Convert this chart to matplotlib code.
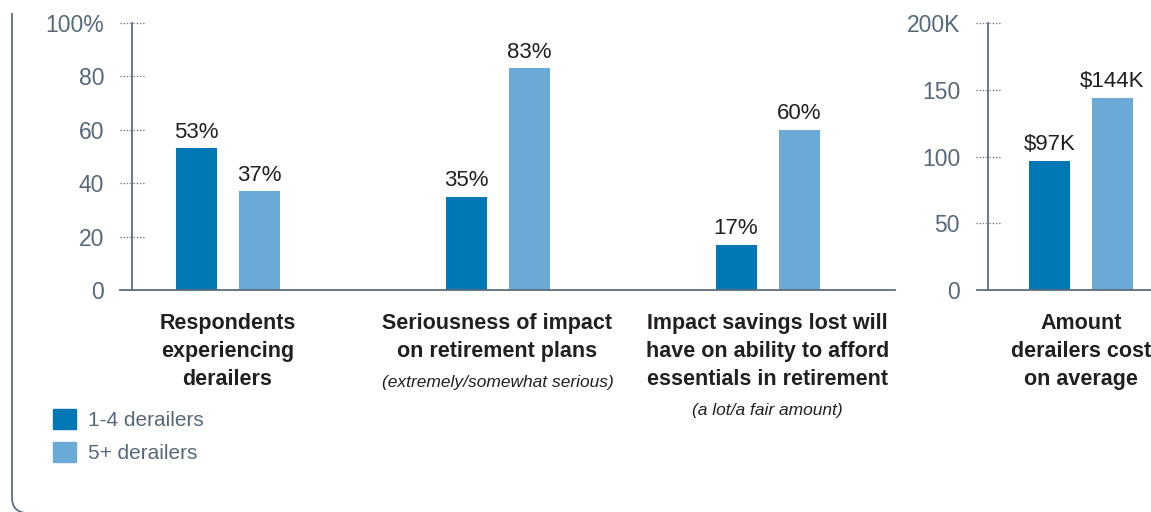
import matplotlib
matplotlib.use("Agg")
import matplotlib.pyplot as plt
import numpy as np
from matplotlib.patches import Patch, PathPatch
from matplotlib.path import Path

plt.rcParams["font.family"] = ["Liberation Sans", "DejaVu Sans"]

# ---- data -------------------------------------------------------------
categories = [
    "Respondents\nexperiencing\nderailers",
    "Seriousness of impact\non retirement plans",
    "Impact savings lost will\nhave on ability to afford\nessentials in retirement",
]
subtitles = ["", "(extremely/somewhat serious)", "(a lot/a fair amount)"]
few_pct = [53, 35, 17]
many_pct = [37, 83, 60]
pct_ticks = [0, 20, 40, 60, 80, 100]
pct_tick_labels = ["0", "20", "40", "60", "80", "100%"]

cost_category = "Amount\nderailers cost\non average"
few_cost = [97]
many_cost = [144]
cost_ticks = [0, 50, 100, 150, 200]
cost_tick_labels = ["0", "50", "100", "150", "200K"]

series_names = ["1-4 derailers", "5+ derailers"]

# ---- style ------------------------------------------------------------
DARK = "#0078B5"
LIGHT = "#6BAAD6"
AXIS = "#5E6C7B"
TICK_TXT = "#56687A"
VALUE_TXT = "#231F20"
CAT_TXT = "#231F20"

W, H = 1151, 512
fig = plt.figure(figsize=(W / 100, H / 100), dpi=100)


def box(x0, y0, x1, y1):
    return [x0 / W, 1 - y1 / H, (x1 - x0) / W, (y1 - y0) / H]


PX = 1 / 270.0          # one pixel in x data units
PT = 0.72               # one pixel in points
BAR_W = 41 * PX
OFFSET = 31.5 * PX


def style_axis(ax, spine_x, tick_x0, tick_x1, ticks, labels, top):
    ax.set_ylim(0, top)
    for s in ("top", "right"):
        ax.spines[s].set_visible(False)
    ax.spines["left"].set_position(("data", spine_x))
    for s in ("left", "bottom"):
        ax.spines[s].set_color(AXIS)
        ax.spines[s].set_linewidth(1.3)
    ax.set_xticks([])
    ax.set_yticks(ticks)
    ax.set_yticklabels(labels)
    ax.tick_params(axis="y", length=0, pad=28 * PT, labelsize=16.5,
                   labelcolor=TICK_TXT)
    ax.hlines(ticks[1:], tick_x0, tick_x1, colors=AXIS, linewidth=0.9,
              linestyles=(0, (1, 1.6)), clip_on=False)
    ax.patch.set_alpha(0)


def category_label(ax, x, text, sub):
    ax.annotate(text, xy=(x, 0), xytext=(0, -23 * PT), textcoords="offset points",
                ha="center", va="top", fontsize=15.5, fontweight="bold",
                color=CAT_TXT, linespacing=1.45, annotation_clip=False)
    if sub:
        n = text.count("\n") + 1
        ax.annotate(sub, xy=(x, 0), xytext=(0, -(34 + 29 * n) * PT),
                    textcoords="offset points", ha="center", va="center",
                    fontsize=12.5, style="italic", color=VALUE_TXT,
                    annotation_clip=False)


def value_label(ax, x, v, fmt):
    ax.annotate(fmt.format(v), xy=(x, v), xytext=(0, 4), textcoords="offset points",
                ha="center", va="bottom", fontsize=16, color=VALUE_TXT)


# ---- percentage panel -------------------------------------------------
ax1 = fig.add_axes(box(120, 23, 895, 290))
ax1.set_xlim(-107.5 * PX, 667.5 * PX)
x = np.arange(len(categories))
ax1.bar(x - OFFSET, few_pct, BAR_W, color=DARK)
ax1.bar(x + OFFSET, many_pct, BAR_W, color=LIGHT)
style_axis(ax1, -95.5 * PX, -107.5 * PX, -81.5 * PX, pct_ticks, pct_tick_labels, 100)
for xi, a, b in zip(x, few_pct, many_pct):
    value_label(ax1, xi - OFFSET, a, "{}%")
    value_label(ax1, xi + OFFSET, b, "{}%")
for xi, cat, sub in zip(x, categories, subtitles):
    category_label(ax1, xi, cat, sub)

# ---- cost panel -------------------------------------------------------
ax2 = fig.add_axes(box(977, 23, 1151, 290))
ax2.set_xlim(-104 * PX, 70 * PX)
ax2.bar([-OFFSET], few_cost, BAR_W, color=DARK)
ax2.bar([OFFSET], many_cost, BAR_W, color=LIGHT)
style_axis(ax2, -93 * PX, -105 * PX, -79 * PX, cost_ticks, cost_tick_labels, 200)
value_label(ax2, -OFFSET, few_cost[0], "${}K")
value_label(ax2, OFFSET, many_cost[0], "${}K")
category_label(ax2, 0, cost_category, "")

# ---- legend -----------------------------------------------------------
fig.legend(handles=[Patch(color=DARK), Patch(color=LIGHT)], labels=series_names,
           loc="upper left", bbox_to_anchor=(53 / W, 1 - 409 / H), frameon=False,
           fontsize=15, handlelength=1.1, handleheight=1.1, handletextpad=0.6,
           labelspacing=0.55, borderpad=0, borderaxespad=0, labelcolor=TICK_TXT)

# ---- panel frame (left edge with rounded corner) ----------------------
def fpt(px_x, px_y):
    return (px_x / W, 1 - px_y / H)

frame = Path([fpt(12, 13), fpt(12, 498), fpt(12, 511), fpt(25, 513)],
             [Path.MOVETO, Path.LINETO, Path.CURVE3, Path.CURVE3])
fig.patches.append(PathPatch(frame, transform=fig.transFigure, fill=False,
                             edgecolor=AXIS, linewidth=1.3))

fig.savefig("out.png", dpi=100)
